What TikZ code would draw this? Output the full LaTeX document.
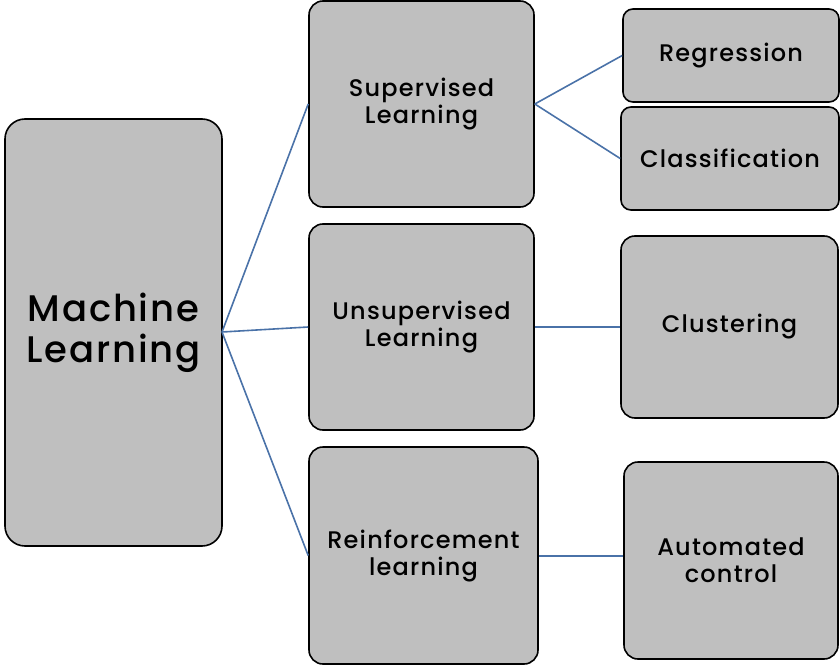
\documentclass[tikz,border=0pt]{standalone}
\usepackage{fontspec}
\setmainfont{Poppins}[UprightFont=* Medium, LetterSpace=5]
\definecolor{boxfill}{HTML}{BFBFBF}
\definecolor{linkblue}{HTML}{4A72A8}
\begin{document}
\begin{tikzpicture}[x=1pt,y=-1pt,
  box/.style={draw=black, line width=1.6pt, fill=boxfill, rounded corners=14pt, align=center, inner sep=0pt, font=\fontsize{24}{27}\selectfont},
  link/.style={draw=linkblue, line width=1.6pt}]
\useasboundingbox (0,0) rectangle (840,666);
\node[box, minimum width=217pt, minimum height=427pt, rounded corners=20pt, font=\fontsize{37}{41}\selectfont] (ml) at (113.5,332.5) {Machine\\Learning};
\node[box, minimum width=225pt, minimum height=206pt] (sup) at (421.5,104) {Supervised\\Learning};
\node[box, minimum width=225pt, minimum height=206pt] (uns) at (421.5,327) {Unsupervised\\Learning};
\node[box, minimum width=229pt, minimum height=217pt] (rei) at (423.5,555.5) {Reinforcement\\learning};
\node[box, minimum width=216pt, minimum height=93pt, rounded corners=10pt] (reg) at (731,55.5) {Regression};
\node[box, minimum width=218pt, minimum height=103pt, rounded corners=10pt] (cla) at (730,158.5) {Classification};
\node[box, minimum width=217pt, minimum height=182pt] (clu) at (729.5,327) {Clustering};
\node[box, minimum width=214pt, minimum height=197pt] (aut) at (731,560.5) {Automated\\control};
\coordinate (mlr) at (222,332);
\draw[link] (mlr) -- (sup.west);
\draw[link] (mlr) -- (uns.west);
\draw[link] (mlr) -- (rei.west);
\draw[link] (sup.east) -- (reg.west);
\draw[link] (sup.east) -- (cla.west);
\draw[link] (uns.east) -- (clu.west);
\draw[link] ([yshift=-0.5pt]rei.east) -- ([yshift=-0.5pt]rei.east -| aut.west);
\end{tikzpicture}
\end{document}
